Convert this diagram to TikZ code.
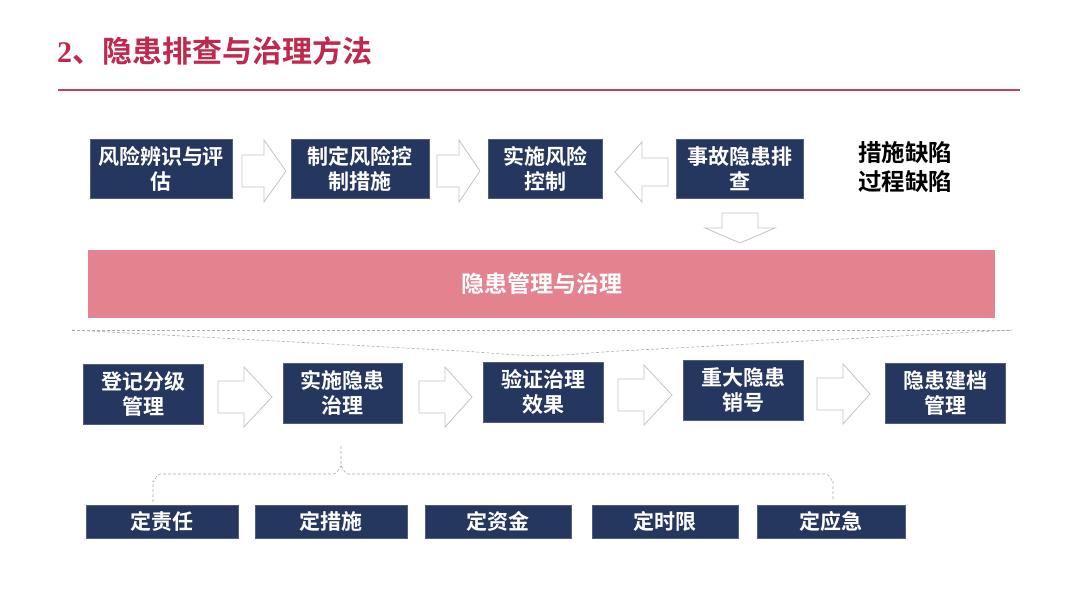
\documentclass[tikz,border=0pt]{standalone}
\usepackage{fontspec}
\setmainfont{Liberation Serif}
\newfontfamily\cjk{Noto Sans CJK SC}[BoldFont={Noto Sans CJK SC Bold}]
\definecolor{navy}{HTML}{26375F}
\definecolor{bandpink}{HTML}{E5828F}
\definecolor{titlered}{HTML}{C0284E}
\definecolor{rulered}{HTML}{C4405E}
\definecolor{arrowgray}{HTML}{C4C4C4}
\definecolor{bracegray}{HTML}{A6B2A6}
\newcommand\ArrowRight[6]{\draw[hollow] (#1,#2-#5) -- (#1+#3-#4,#2-#5) -- (#1+#3-#4,#2-#6) -- (#1+#3,#2) -- (#1+#3-#4,#2+#6) -- (#1+#3-#4,#2+#5) -- (#1,#2+#5) -- cycle;}
\newcommand\ArrowLeft[6]{\draw[hollow] (#1,#2) -- (#1+#4,#2-#6) -- (#1+#4,#2-#5) -- (#1+#3,#2-#5) -- (#1+#3,#2+#5) -- (#1+#4,#2+#5) -- (#1+#4,#2+#6) -- cycle;}
\tikzset{
  box/.style={fill=navy, draw=navy!80!white, line width=0.6pt, text=white,
    font=\cjk\bfseries\fontsize{21}{25}\selectfont, align=center, inner sep=0pt,
    minimum height=59pt},
  smallbox/.style={box, minimum height=33pt},
  band/.style={fill=bandpink, draw=none, text=white,
    font=\cjk\bfseries\fontsize{23}{28}\selectfont, inner sep=0pt,
    minimum width=907pt, minimum height=68pt},
  note/.style={text=black, font=\cjk\bfseries\fontsize{23.5}{29}\selectfont, align=left, inner sep=0pt},
  titletext/.style={text=titlered, font=\bfseries\fontsize{30}{34}\selectfont, inner sep=0pt},
  hollow/.style={draw=arrowgray, fill=white, line width=0.8pt, line join=miter},
  bracestyle/.style={draw=bracegray, densely dashed, line width=0.6pt},
  rule/.style={draw=rulered, line width=1.5pt}
}
\begin{document}
\begin{tikzpicture}[x=1pt,y=-1pt]
\useasboundingbox[fill=white] (0,0) rectangle (1080,608);
% title
\node[titletext, anchor=west] (title) at (57,51) {2{\cjk\bfseries 、隐患排查与治理方法}};
\coordinate (ruleL) at (58,90);
\coordinate (ruleR) at (1020,90);
\draw[rule] (ruleL) -- (ruleR);
% top row
\node[box, minimum width=142pt] (t1) at (161,168.5) {风险辨识与评\\估};
\node[box, minimum width=138pt] (t2) at (360,168.5) {制定风险控\\制措施};
\node[box, minimum width=114pt] (t3) at (545,168.5) {实施风险\\控制};
\node[box, minimum width=127pt] (t4) at (739.5,168.5) {事故隐患排\\查};
\node[note, anchor=west] (defect) at (858,167) {措施缺陷\\过程缺陷};
\ArrowRight{242}{171}{44}{22}{16}{31}
\ArrowRight{437}{171}{43}{21}{16}{31}
\ArrowLeft{615}{172}{53}{27}{14}{30}
\draw[hollow] (722,213) -- (758,213) -- (758,228) -- (775,228) -- (740,243) -- (705,228) -- (722,228) -- cycle;
% band
\node[band] (band) at (541.5,284) {隐患管理与治理};
% big brace
\coordinate (brL) at (72,330);
\coordinate (brR) at (1012,330);
\coordinate (brTip) at (540,355);
\draw[bracestyle] (brL) -- (brR);
\draw[bracestyle] (brL) -- (470,351.5) .. controls (540,357) .. (610,351.5) -- (brR);
% bottom row
\node[box, minimum width=120pt, minimum height=60pt] (b1) at (143,394) {登记分级\\管理};
\node[box, minimum width=119pt, minimum height=60pt] (b2) at (342.5,393) {实施隐患\\治理};
\node[box, minimum width=120pt, minimum height=60pt] (b3) at (543,392) {验证治理\\效果};
\node[box, minimum width=120pt, minimum height=60pt] (b4) at (743,390.5) {重大隐患\\销号};
\node[box, minimum width=120pt, minimum height=60pt] (b5) at (945,393) {隐患建档\\管理};
\ArrowRight{218}{397}{54}{28}{16}{30}
\ArrowRight{419}{397}{53}{27}{16}{30}
\ArrowRight{618}{395}{54}{28}{16}{30}
\ArrowRight{817}{394}{53}{27}{16}{30}
% small boxes
\node[smallbox, minimum width=152pt] (s1) at (162,521.5) {定责任};
\node[smallbox, minimum width=152pt] (s2) at (331,521.5) {定措施};
\node[smallbox, minimum width=146pt] (s3) at (498,521.5) {定资金};
\node[smallbox, minimum width=146pt] (s4) at (665,521.5) {定时限};
\node[smallbox, minimum width=148pt] (s5) at (831,521.5) {定应急};
% bottom brace
\coordinate (bbL) at (153,502);
\coordinate (bbR) at (833,500);
\coordinate (bbTip) at (341,446);
\draw[bracestyle] (bbL) -- (153,481) to[out=-90,in=180] (160,474) -- (334,474) to[out=0,in=90] (341,467) -- (bbTip);
\draw[bracestyle] (341,467) to[out=90,in=180] (348,474) -- (826,474) to[out=0,in=-90] (833,481) -- (bbR);
\end{tikzpicture}
\end{document}
